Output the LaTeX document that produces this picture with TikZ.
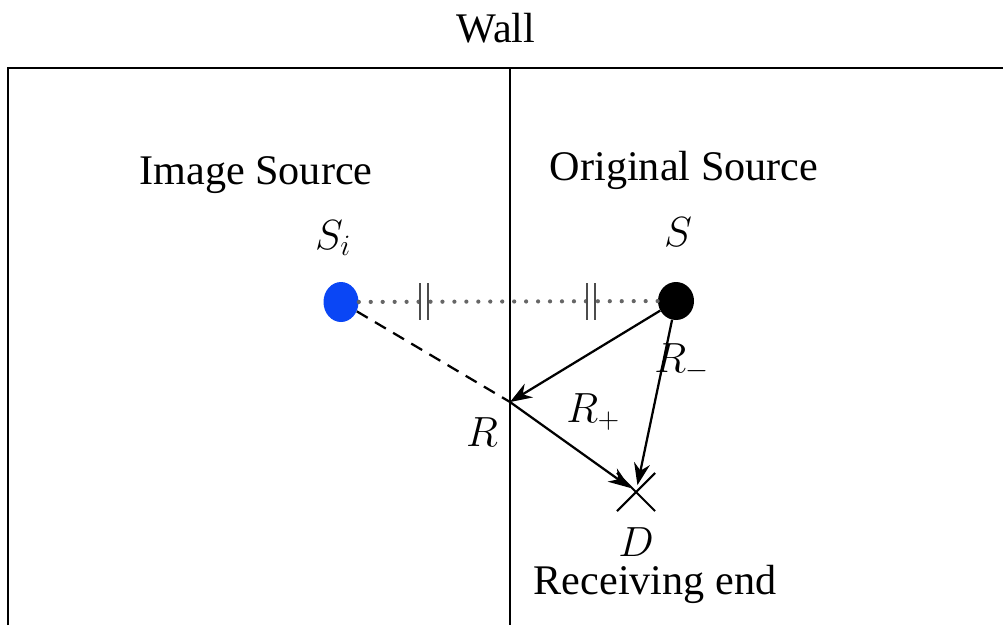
\RequirePackage{fix-cm}
\documentclass[tikz,border=0pt]{standalone}
\usepackage{fontspec}
\setmainfont{Liberation Serif}
\usepackage{tikz}
\usetikzlibrary{arrows.meta,shapes.geometric,shapes.misc}
\definecolor{imgc}{HTML}{0A46F5}
\tikzset{
  lbl/.style={font=\fontsize{30}{36}\selectfont, inner sep=0pt},
  src/.style={ellipse, fill=#1, draw=none, minimum width=0.875cm, minimum height=1cm, inner sep=0pt},
  ray/.style={line width=1.6pt},
  arr/.style={ray, -{Stealth[length=5.5mm, width=4mm, inset=1.8mm]}},
}
\begin{document}
\begin{tikzpicture}[x=0.025cm, y=-0.025cm]
\useasboundingbox (0,0) rectangle (1003,625);
% room outline and wall
\draw[line width=1.8pt] (8,625) -- (8,68) -- (1003,68);
\draw[line width=1.5pt] (510,68) -- (510,625);
\node[lbl] (wall) at (496,28) {Wall};
\node[lbl] (imgT) at (256,175) {Image Source};
\node[lbl] (orgT) at (684,170) {Original Source};
% sources
\node[src=imgc] (Si) at (341,302) {};
\node[src=black, minimum width=0.9cm, minimum height=0.95cm] (S) at (676,301) {};
\node[lbl] (SiL) at (333,238) {$S_i$};
\node[lbl] (SL) at (678,232) {$S$};
% reflection point and receiver
\coordinate (R) at (510,402);
\node[draw, cross out, line width=1.5pt, minimum size=0.9cm, inner sep=0pt] (D) at (636,492) {};
\node[lbl] (RL) at (482,432) {$R$};
\node[lbl] (DL) at (636,542) {$D$};
\node[lbl] (recT) at (655,584) {Receiving end};
% paths
\draw[line width=3pt, line cap=round, dash pattern=on 0pt off 8.5pt, gray!80!black] (Si) -- (S);
\foreach \x in {420,428,587,595}
  \draw[line width=1.5pt, gray!60!black] (\x,283) -- (\x,320);
\draw[ray, dash pattern=on 9pt off 6pt] (Si) -- (R);
\draw[arr] (S) -- (R);
\draw[arr, shorten >=5pt] (R) -- (D.center);
\draw[arr, shorten >=5pt] (S) -- (D.center);
\node[lbl] (RpL) at (593,412) {$R_+$};
\node[lbl] (RmL) at (682,362) {$R_-$};
\end{tikzpicture}
\end{document}
